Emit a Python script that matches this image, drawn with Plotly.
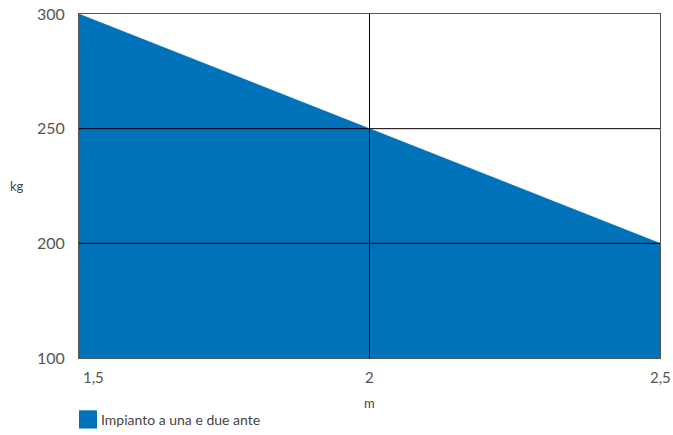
"""Load chart: kg vs m for single/double leaf installation."""

import plotly.graph_objects as go

# Data
length_m = [1.5, 2, 2.5]
load_kg = [300, 250, 200]

x_ticks = [1.5, 2, 2.5]
x_tick_text = ["1,5", "2", "2,5"]
y_ticks = [150, 200, 250, 300]
y_tick_text = ["100", "200", "250", "300"]
series_name = "Impianto a una e due ante"

_BLUE = "#0072BA"
_FONT = "Lato"

fig = go.Figure()
fig.add_trace(
    go.Scatter(
        x=length_m,
        y=load_kg,
        name=series_name,
        mode="lines",
        line=dict(color=_BLUE, width=0.5),
        fill="tozeroy",
        fillcolor=_BLUE,
        showlegend=False,
    )
)

# Gridlines sit above the filled area in the reference, so draw them as shapes
for yv in y_ticks[1:-1]:
    fig.add_shape(
        type="line", xref="paper", yref="y", x0=0, x1=1, y0=yv, y1=yv,
        line=dict(color="#000000", width=1), layer="above",
    )
for xv in x_ticks[1:-1]:
    fig.add_shape(
        type="line", xref="x", yref="paper", x0=xv, x1=xv, y0=0, y1=1,
        line=dict(color="#000000", width=1), layer="above",
    )

# x tick labels (first one sits right of its tick in the reference)
for i, (xv, txt) in enumerate(zip(x_ticks, x_tick_text)):
    fig.add_annotation(
        x=xv, y=0, xref="x", yref="paper", text=txt, showarrow=False,
        xanchor="left" if i == 0 else "center", yanchor="top",
        xshift=2 if i == 0 else 0, yshift=-8,
        font=dict(family=_FONT, size=15, color="#555555"),
    )

# axis titles
fig.add_annotation(
    x=0.5, y=0, xref="paper", yref="paper", text="m", showarrow=False,
    yanchor="top", yshift=-35, font=dict(family=_FONT, size=13, color="#444444"),
)
fig.add_annotation(
    x=0, y=0.5, xref="paper", yref="paper", text="kg", showarrow=False,
    xanchor="center", xshift=-62, font=dict(family=_FONT, size=13, color="#444444"),
)

# legend swatch + label
fig.add_shape(
    type="rect", xref="paper", yref="paper", x0=0, x1=0.031, y0=-0.152, y1=-0.205,
    fillcolor=_BLUE, line=dict(width=0),
)
fig.add_annotation(
    x=0.034, y=-0.178, xref="paper", yref="paper", text=series_name,
    showarrow=False, xanchor="left", yanchor="middle",
    font=dict(family=_FONT, size=14, color="#444444"),
)

fig.update_layout(
    width=673,
    height=435,
    margin=dict(l=79, r=13, t=14, b=77),
    paper_bgcolor="white",
    plot_bgcolor="white",
    font=dict(family=_FONT, color="#555555"),
    xaxis=dict(
        range=[1.5, 2.5],
        tickvals=x_ticks,
        showticklabels=False,
        showgrid=False,
        zeroline=False,
        showline=True,
        linecolor="#555555",
        mirror=True,
        ticks="",
        automargin=False,
    ),
    yaxis=dict(
        range=[150, 300],
        tickvals=y_ticks,
        ticktext=y_tick_text,
        showgrid=False,
        zeroline=False,
        showline=True,
        linecolor="#555555",
        mirror=True,
        ticks="",
        ticklen=0,
        ticklabelstandoff=10,
        automargin=False,
        tickfont=dict(family=_FONT, size=16, color="#555555"),
    ),
)

# drop the default body margin so the figure fills the window exactly
fig.write_html(
    "out.html",
    config={"displayModeBar": False},
    post_script="document.body.style.margin='0';",
)
